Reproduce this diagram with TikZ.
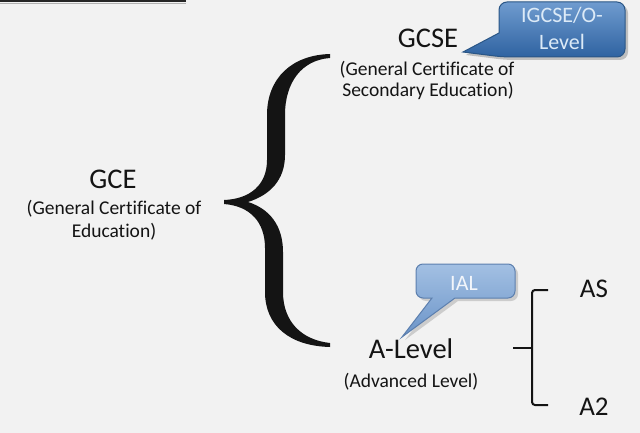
\documentclass[tikz,border=0pt]{standalone}
\usepackage{fontspec}
\setmainfont{Carlito}[Ligatures=NoCommon]
\definecolor{bg}{HTML}{F2F2F2}
\definecolor{ink}{HTML}{141414}
\definecolor{ctopA}{HTML}{6F9BCF}
\definecolor{cbotA}{HTML}{2F63A1}
\definecolor{cedgeA}{HTML}{2A5686}
\definecolor{ctxtA}{HTML}{DCEAF7}
\definecolor{ctopB}{HTML}{A3C0E3}
\definecolor{cbotB}{HTML}{6B94C8}
\definecolor{cedgeB}{HTML}{5C7FAE}
\definecolor{ctxtB}{HTML}{F3F6FB}
\tikzset{
  big/.style={anchor=base, inner sep=0pt, text=ink, font=\fontsize{28.5}{34}\selectfont},
  small/.style={anchor=base, inner sep=0pt, text=ink, font=\fontsize{19.5}{23}\selectfont},
  sub/.style={anchor=base, inner sep=0pt, text=ink, font=\fontsize{27}{32}\selectfont},
  calltxt/.style={anchor=base, inner sep=0pt, font=\fontsize{22}{26}\selectfont},
  calloutA/.style={top color=ctopA, bottom color=cbotA, draw=cedgeA, line width=1pt},
  calloutB/.style={top color=ctopB, bottom color=cbotB, draw=cedgeB, line width=1pt},
  bracket/.style={draw=ink, line width=2pt, rounded corners=3pt},
}
\begin{document}
\begin{tikzpicture}[x=1pt,y=-1pt]
\useasboundingbox (0,0) rectangle (640,433);
\fill[bg] (0,0) rectangle (640,433);
% top-left rule
\draw[black!30, line width=1.5pt] (0,3.5) -- (186,3.5);
\draw[black!85, line width=2.5pt] (0,1) -- (186,1);

% GCE
\node[big] (gce) at (113,188) {GCE};
\node[small] (gce1) at (114,214) {(General Certificate of};
\node[small] (gce2) at (114,237) {Education)};

% big brace
\fill[ink] (330,54)
  .. controls (292,55) and (267,78) .. (267,115)
  -- (267,160)
  .. controls (267,185) and (250,199) .. (224,200)
  -- (224,204)
  .. controls (250,206) and (265,222) .. (265,248)
  -- (265,292)
  .. controls (265,326) and (290,346) .. (330,347)
  -- (330,343)
  .. controls (302,340) and (283,322) .. (283,292)
  -- (283,252)
  .. controls (283,226) and (270,209) .. (248,202)
  .. controls (270,195) and (285,180) .. (285,155)
  -- (285,115)
  .. controls (285,82) and (302,60) .. (330,58)
  -- cycle;

% GCSE
\node[big] (gcse) at (428,48) {GCSE};
\node[small] (gcse1) at (427,76) {(General Certificate of};
\node[small] (gcse2) at (428,97) {Secondary Education)};

% A-Level
\node[big] (alevel) at (411,358) {A-Level};
\node[small] (alevel1) at (411,387) {(Advanced Level)};

% IGCSE callout
\fill[black!25] (466,55) -- (502,36) [rounded corners=8pt] -- (502,5) -- (628,5) -- (628,60) -- (506,60) [sharp corners] -- cycle;
\path[calloutA] (463,52) -- (499,33) [rounded corners=8pt] -- (499,2) -- (625,2) -- (625,57) -- (503,57) [sharp corners] -- cycle;
\node[calltxt, text=ctxtA] (ig1) at (562,23) {IGCSE/O-};
\node[calltxt, text=ctxtA] (ig2) at (562,50) {Level};

% IAL callout
\fill[black!20] (405,340) -- (435,301) [rounded corners=7pt] -- (419,301) -- (419,267) -- (518,267) -- (518,301) [sharp corners] -- (458,301) -- cycle;
\path[calloutB] (402,337) -- (432,298) [rounded corners=7pt] -- (416,298) -- (416,264) -- (515,264) -- (515,298) [sharp corners] -- (455,298) -- cycle;
\node[calltxt, text=ctxtB] (ial) at (464,290) {IAL};

% AS / A2
\node[sub] (as) at (594,297) {AS};
\node[sub] (a2) at (594,415) {A2};
\coordinate (bt) at (548,290);
\coordinate (bb) at (548,405);
\coordinate (tk) at (513,348);
\draw[bracket] (bt) -- (532,290) -- (532,405) -- (bb);
\draw[draw=ink, line width=2pt] (tk) -- (532,348);
\end{tikzpicture}
\end{document}
